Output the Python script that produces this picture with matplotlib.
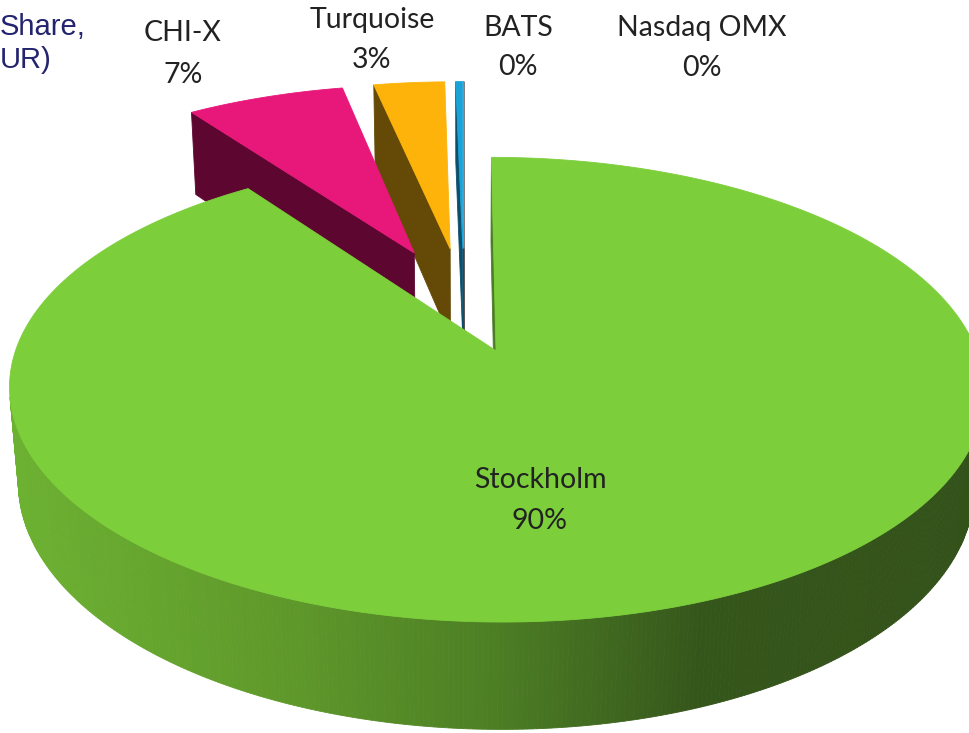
import numpy as np
import matplotlib
matplotlib.use("Agg")
import matplotlib.pyplot as plt
from matplotlib.patches import Polygon
from matplotlib.colors import to_rgb

# ---------------- data ----------------
venues = ["Stockholm", "CHI-X", "Turquoise", "BATS", "Nasdaq OMX"]
shares = [90.2, 6.55, 2.95, 0.28, 0.02]
pct_labels = ["90%", "7%", "3%", "0%", "0%"]
title_lines = ["Share,", "UR)"]

# ---------------- style ----------------
top_colors = ["#7ccf3b", "#e8177a", "#fdb309", "#1aa3d9", "#8c8c8c"]
wall_colors = ["#4c7d24", "#5d0730", "#654a07", "#0b4f6c", "#404040"]
explode = [0.22, 0.28, 0.28, 0.28, 0.28]
green_wall_stops = [(0, "#6db332"), (300, "#5e972a"), (500, "#4c7d24"),
                    (700, "#35561b"), (970, "#33521a")]

label_pos = {  # (x, y of name line, y of pct line) in pixels
    "Stockholm": (540, 480, 521),
    "CHI-X": (183, 33, 75),
    "Turquoise": (372, 20, 60),
    "BATS": (518, 28, 67),
    "Nasdaq OMX": (702, 28, 68),
}

# camera
PHI = np.radians(27.0)
DIST = 5.5
SCALE = 2553.0
CX, CY = 464.0, 305.0
HEIGHT = 0.228
sphi, cphi = np.sin(PHI), np.cos(PHI)
CAM = np.array([0.0, -DIST * cphi, DIST * sphi])


def proj(X, Y, Z):
    v = Y * sphi + Z * cphi
    w = DIST + Y * cphi - Z * sphi
    return CX + SCALE * X / w, CY - SCALE * v / w


def depth(X, Y, Z):
    return DIST + Y * cphi - Z * sphi


def visible(normal, point):
    return np.dot(normal, CAM - np.asarray(point)) > 0


def interp_color(x, stops):
    xs = [s[0] for s in stops]
    cols = np.array([to_rgb(s[1]) for s in stops])
    return tuple(np.interp(x, xs, cols[:, k]) for k in range(3))


fig = plt.figure(figsize=(9.7, 7.33), dpi=100)
ax = fig.add_axes([0, 0, 1, 1])
ax.set_xlim(0, 970)
ax.set_ylim(733, 0)
ax.axis("off")

total = float(sum(shares))
bounds = np.concatenate([[0], np.cumsum(shares)]) / total * 2 * np.pi

slices = []
for i in range(len(venues)):
    t0, t1 = bounds[i], bounds[i + 1]
    mid = 0.5 * (t0 + t1)
    ox, oy = explode[i] * np.sin(mid), explode[i] * np.cos(mid)
    d = depth(ox + 0.5 * np.sin(mid), oy + 0.5 * np.cos(mid), 0)
    slices.append((d, i, t0, t1, ox, oy))
slices.sort(key=lambda s: -s[0])


def add_poly(pts3d, color, z):
    pts = [proj(*p) for p in pts3d]
    ax.add_patch(Polygon(pts, closed=True, facecolor=color, edgecolor=color,
                         linewidth=0.6, zorder=z, antialiased=True))


z = 1
for d, i, t0, t1, ox, oy in slices:
    n = max(3, int(np.degrees(t1 - t0) * 2))
    ts = np.linspace(t0, t1, n)
    apex_t = (ox, oy, 0.0)
    apex_b = (ox, oy, -HEIGHT)
    # radial faces
    for t, sign in ((t0, -1), (t1, 1)):
        normal = np.array([sign * np.cos(t), -sign * np.sin(t), 0.0])
        outer_t = (ox + np.sin(t), oy + np.cos(t), 0.0)
        outer_b = (ox + np.sin(t), oy + np.cos(t), -HEIGHT)
        centre = np.mean([apex_t, outer_t, outer_b, apex_b], axis=0)
        if visible(normal, centre):
            add_poly([apex_t, outer_t, outer_b, apex_b], wall_colors[i], z)
            z += 1
    # curved outer wall
    for a, b in zip(ts[:-1], ts[1:]):
        m = 0.5 * (a + b)
        normal = np.array([np.sin(m), np.cos(m), 0.0])
        p = (ox + np.sin(m), oy + np.cos(m), -HEIGHT / 2)
        if not visible(normal, p):
            continue
        quad = [(ox + np.sin(a), oy + np.cos(a), 0.0), (ox + np.sin(b), oy + np.cos(b), 0.0),
                (ox + np.sin(b), oy + np.cos(b), -HEIGHT), (ox + np.sin(a), oy + np.cos(a), -HEIGHT)]
        if i == 0:
            col = interp_color(proj(*p)[0], green_wall_stops)
        else:
            col = wall_colors[i]
        add_poly(quad, col, z)
    z += 1
    # top face
    top = [apex_t] + [(ox + np.sin(t), oy + np.cos(t), 0.0) for t in ts]
    add_poly(top, top_colors[i], z)
    z += 1

label_font = ["Lato", "DejaVu Sans"]
for name, pct in zip(venues, pct_labels):
    x, y1, y2 = label_pos[name]
    ax.text(x, y1, name, ha="center", va="center", fontsize=20.5,
            family=label_font, color="#222222", zorder=z + 1)
    ax.text(x, y2, pct, ha="center", va="center", fontsize=20.5,
            family=label_font, color="#222222", zorder=z + 1)

ax.text(0, 27, title_lines[0], ha="left", va="center", fontsize=21,
        family=["Liberation Sans"], color="#24246e", zorder=z + 1)
ax.text(0, 60, title_lines[1], ha="left", va="center", fontsize=21,
        family=["Liberation Sans"], color="#24246e", zorder=z + 1)

fig.savefig("out.png", dpi=100)
